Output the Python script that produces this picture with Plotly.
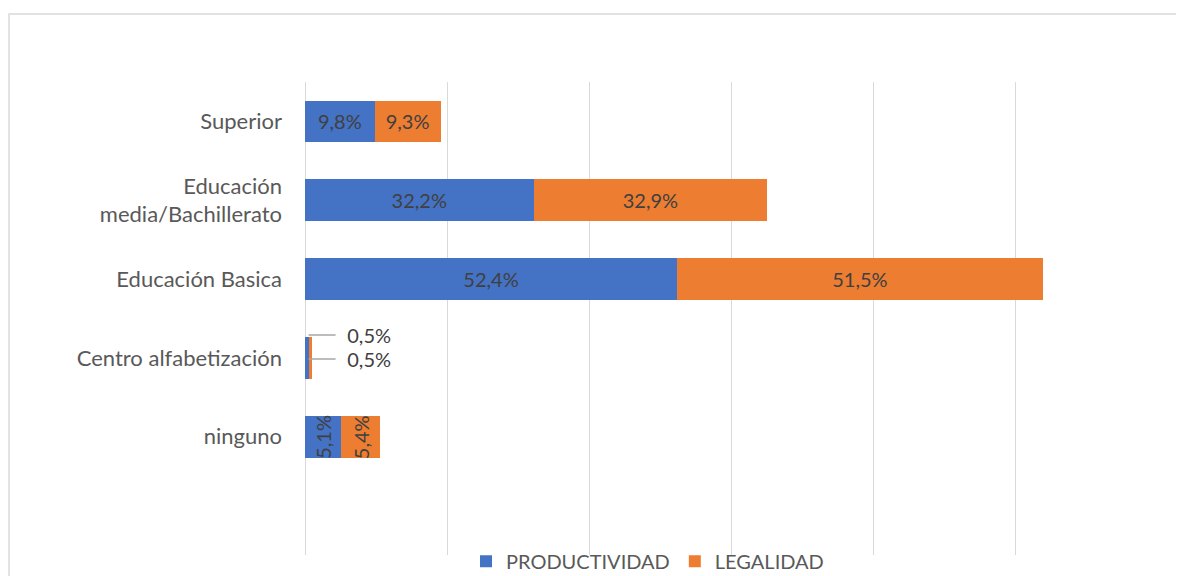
import plotly.graph_objects as go

categories = ["ninguno", "Centro alfabetización", "Educación Basica",
              "Educación<br>media/Bachillerato", "Superior"]
productividad = [5.1, 0.5, 52.4, 32.2, 9.8]
legalidad = [5.4, 0.5, 51.5, 32.9, 9.3]
series_names = ["PRODUCTIVIDAD", "LEGALIDAD"]
colors = ["#4472C4", "#ED7D31"]

FONT = "Lato"
LBL = 20
TICK = 22

def fmt(v):
    return f"{v:.1f}".replace(".", ",") + "%"

# categories labelled by annotation instead of inside text
special = {"ninguno", "Centro alfabetización"}

fig = go.Figure()
for name, vals, col in zip(series_names, [productividad, legalidad], colors):
    fig.add_trace(go.Bar(
        y=categories, x=vals, name=name, orientation="h",
        marker=dict(color=col, line=dict(width=0)),
        text=["" if c in special else fmt(v) for c, v in zip(categories, vals)],
        textposition="inside", insidetextanchor="middle",
        textangle=0,
        textfont=dict(family=FONT, size=LBL, color="#404040"),
        hoverinfo="skip",
    ))

# rotated labels for "ninguno"
cum = 0
for vals in [productividad, legalidad]:
    v = vals[0]
    fig.add_annotation(x=cum + v / 2, y=categories[0], text=fmt(v), textangle=-90,
                       showarrow=False,
                       font=dict(family=FONT, size=LBL, color="#404040"))
    cum += v

# callout labels for "Centro alfabetización"
v1, v2 = productividad[1], legalidad[1]
for val, ys in [(v2, 23), (v1, -1)]:
    fig.add_annotation(x=v1, y=categories[1], yshift=ys,
                       text="&nbsp;&nbsp;" + fmt(val),
                       showarrow=True, ax=27, ay=0, arrowhead=0, arrowwidth=1.5,
                       arrowcolor="#A6A6A6", xanchor="left", borderpad=0,
                       font=dict(family=FONT, size=LBL, color="#404040"))

# outer chart border
fig.add_shape(type="rect", xref="paper", yref="paper",
              x0=-0.3474, x1=1.06, y0=-0.08, y1=1.1438,
              line=dict(color="#D9D9D9", width=1.5), fillcolor="rgba(0,0,0,0)",
              layer="below")

fig.update_layout(
    width=1176, height=568,
    margin=dict(l=297, r=27, t=74, b=21, autoexpand=False),
    paper_bgcolor="white", plot_bgcolor="white",
    barmode="stack", bargap=0.47,
    font=dict(family=FONT, size=LBL, color="#595959"),
    xaxis=dict(range=[0, 120], dtick=20, showticklabels=False,
               showgrid=True, gridcolor="#D9D9D9", gridwidth=1,
               zeroline=True, zerolinecolor="#D9D9D9", zerolinewidth=1,
               showline=False, fixedrange=True, automargin=False),
    yaxis=dict(range=[-1.5, 4.5], showgrid=False, zeroline=False,
               ticks="", ticklabelstandoff=22, automargin=False,
               tickfont=dict(family=FONT, size=TICK, color="#595959"),
               categoryorder="array", categoryarray=categories),
    legend=dict(orientation="h", x=0.402, xanchor="center", y=-0.013,
                yanchor="middle", font=dict(family=FONT, size=LBL, color="#595959"),
                traceorder="normal", itemwidth=30, bgcolor="rgba(0,0,0,0)"),
    showlegend=True,
)

fig.write_html("out.html")
